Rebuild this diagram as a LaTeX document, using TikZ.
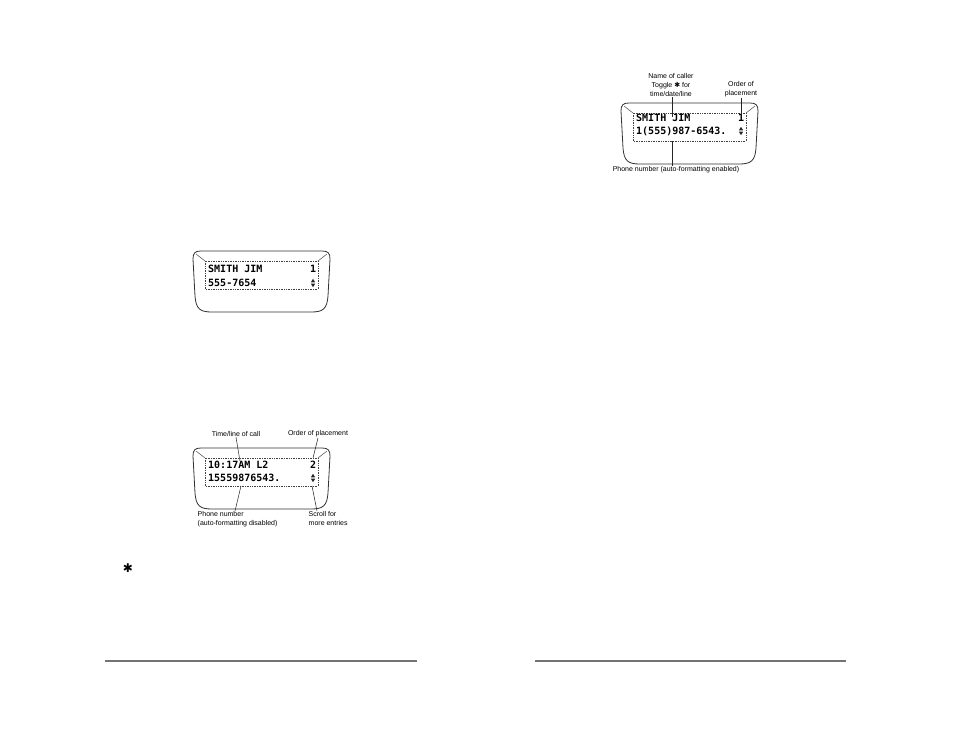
\documentclass[tikz,border=0pt]{standalone}
\usepackage{fontspec}
\setmainfont{Liberation Sans}
\newfontfamily\lcdfont{DejaVu Sans Mono}
\newfontfamily\symfont{DejaVu Sans}
\tikzset{
 casing/.style={draw=black!80, line width=0.8pt},
 screen/.style={draw=black!75, densely dotted, line width=0.7pt},
 bevel/.style={draw=black!70, line width=0.5pt},
 lcd/.style={font=\lcdfont\bfseries\fontsize{10}{10}\selectfont, anchor=west, inner sep=0pt},
 lbl/.style={font=\fontsize{7}{9}\selectfont, inner sep=0.5pt, align=center},
 leader/.style={draw=black!85, line width=0.5pt},
 hrule/.style={draw=black!55, line width=1.4pt},
 display/.pic={
  \draw[casing] (0,8) .. controls (0,2) and (2,0) .. (8,0) -- (129,0)
     .. controls (135,0) and (137,2) .. (137,8) -- (135,45)
     .. controls (134,58) and (130,61) .. (118,61) -- (19,61)
     .. controls (7,61) and (3,58) .. (2,45) -- cycle;
  \draw[screen] (12,10) rectangle (125,38);
  \draw[bevel] (3,3) -- (12,10) (134,3) -- (125,10);
 },
 scroll/.pic={
  \fill[black!85] (-2.2,-0.6) -- (2.2,-0.6) -- (0,-4.2) -- cycle;
  \fill[black!85] (-2.2,0.6) -- (2.2,0.6) -- (0,4.2) -- cycle;
 }
}
\begin{document}
\begin{tikzpicture}[x=1pt,y=-1pt]
\useasboundingbox (0,0) rectangle (954,737);

% ---------- display 1 ----------
\pic at (193,251) {display};
\node[lcd] (d1a) at (208,269) {SMITH JIM};
\node[lcd] (d1b) at (208,283) {555-7654};
\node[lcd] (d1n) at (310,269) {1};
\pic at (313,283) {scroll};

% ---------- display 2 ----------
\pic at (193,448) {display};
\node[lcd] (d2a) at (208,465) {10:17AM L2};
\node[lcd] (d2b) at (208,478) {15559876543.};
\node[lcd] (d2n) at (310,465) {2};
\pic at (313,478) {scroll};

\node[lbl] (t2time) at (236,434) {Time/line of call};
\node[lbl] (t2order) at (318,434) {Order of placement};
\node[lbl, align=left, anchor=north west] (t2phone) at (197,511) {Phone number\\(auto-formatting disabled)};
\node[lbl, align=left, anchor=north west] (t2scroll) at (308,511) {Scroll for\\more entries};
\coordinate (c2time) at (240,461);
\coordinate (c2order) at (313,458);
\coordinate (c2phone) at (241,486);
\coordinate (c2scroll) at (312,486);
\draw[leader] (t2time.south) -- (c2time);
\draw[leader] (t2order.south) -- (c2order);
\draw[leader] (c2phone) -- (t2phone.north -| 235,0);
\draw[leader] (c2scroll) -- (t2scroll.north -| 317,0);

% ---------- display 3 ----------
\pic at (621,103) {display};
\node[lcd] (d3a) at (636,118) {SMITH JIM};
\node[lcd] (d3b) at (636,131) {1(555)987-6543.};
\node[lcd] (d3n) at (738,118) {1};
\pic at (741,131) {scroll};

\node[lbl] (t3name) at (671,85) {Name of caller\\Toggle {\symfont\fontsize{7}{7}\selectfont ✱} for\\time/date/line};
\node[lbl] (t3order) at (741,89.5) {Order of\\placement};
\node[lbl] (t3phone) at (676,170) {Phone number (auto-formatting enabled)};
\coordinate (c3name) at (672,117);
\coordinate (c3order) at (741,115);
\coordinate (c3phone) at (672,141);
\draw[leader] (t3name.south -| c3name) -- (c3name);
\draw[leader] (t3order.south) -- (c3order);
\draw[leader] (c3phone) -- (t3phone.north -| c3phone);

% ---------- star and rules ----------
\node[font=\symfont\fontsize{12}{12}\selectfont, inner sep=0pt] (star) at (128,568) {✱};
\coordinate (r1a) at (105,661);
\coordinate (r1b) at (417,661);
\coordinate (r2a) at (535,661);
\coordinate (r2b) at (846,661);
\draw[hrule] (r1a) -- (r1b);
\draw[hrule] (r2a) -- (r2b);
\end{tikzpicture}
\end{document}
